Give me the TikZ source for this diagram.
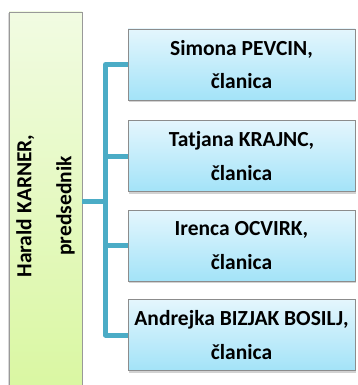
\documentclass[tikz,border=0pt]{standalone}
\usepackage{fontspec}
\setmainfont{Carlito}
\usetikzlibrary{shadows}

\definecolor{linkblue}{HTML}{4BACC6}
\definecolor{boxtop}{HTML}{E4F6FD}
\definecolor{boxbot}{HTML}{A3E3F8}
\definecolor{chairtop}{HTML}{F1FBE2}
\definecolor{chairbot}{HTML}{D9F7A0}

\tikzset{
  member/.style={draw=gray!90, line width=0.8pt, top color=boxtop, bottom color=boxbot,
    minimum width=227pt, minimum height=71pt, align=center, inner sep=0pt,
    font=\fontsize{21.5}{33.4}\selectfont\bfseries,
    drop shadow={shadow xshift=0.5pt, shadow yshift=-2pt, opacity=0.35}},
  chair/.style={draw=gray!80, line width=0.8pt, top color=chairtop, bottom color=chairbot,
    minimum width=388pt, minimum height=73pt, align=center, inner sep=0pt, rotate=90,
    font=\fontsize{21.5}{40}\selectfont\bfseries,
    drop shadow={shadow xshift=-1pt, shadow yshift=-1pt, opacity=0.3}},
  link/.style={draw=linkblue, line width=5pt, line join=round}
}

\begin{document}
\begin{tikzpicture}[x=1pt,y=-1pt]
	\useasboundingbox (0,0) rectangle (357,385);
	\clip (0,0) rectangle (357,385);
	\fill[white] (0,0) rectangle (357,385);

	\node[chair] (harald) at (45.5,206) {Harald KARNER,\\predsednik};

	\node[member] (simona) at (241.5,64.5) {Simona PEVCIN,\\članica};
	\node[member] (tatjana) at (241.5,156) {Tatjana KRAJNC,\\članica};
	\node[member] (irenca) at (241.5,245.5) {Irenca OCVIRK,\\članica};
	\node[member] (andrejka) at (241.5,335) {Andrejka BIZJAK BOSILJ,\\članica};

	\coordinate (trunk) at (105.5,201);
	\draw[link] (harald.south |- trunk) -- (trunk);
	\draw[link] (simona.west) -| (trunk) |- (andrejka.west);
	\draw[link] (tatjana.west) -- (tatjana.west -| trunk);
	\draw[link] (irenca.west) -- (irenca.west -| trunk);
\end{tikzpicture}
\end{document}
